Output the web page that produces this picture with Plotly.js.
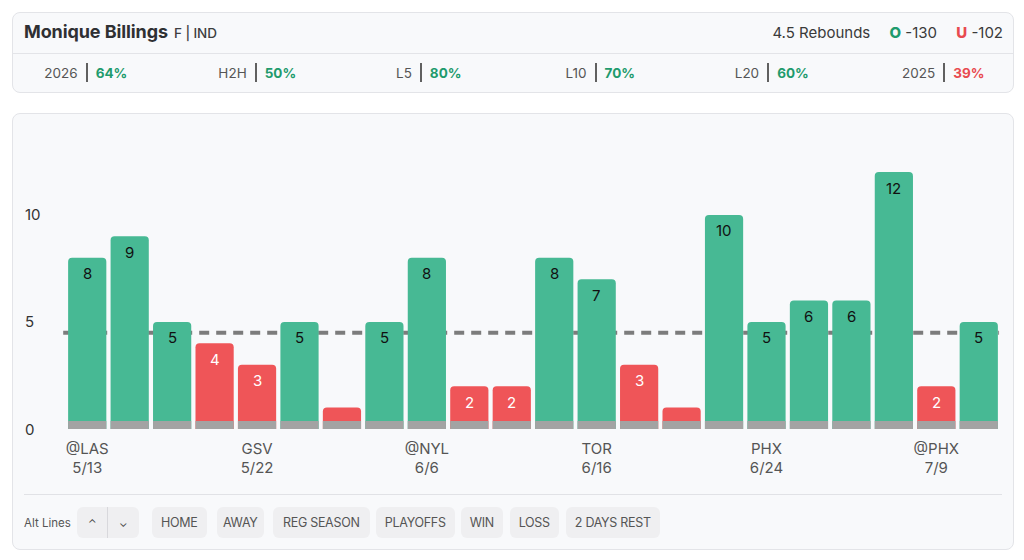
<!DOCTYPE html>
<html>
<head>
<meta charset="utf-8">
<script src="https://cdn.plot.ly/plotly-3.0.1.min.js"></script>
<style>
  html, body { margin: 0; padding: 0; background: #ffffff; }
  body { width: 1024px; height: 560px; position: relative; overflow: hidden;
         font-family: Inter, "Noto Sans", sans-serif; color: #2b2b2b; }
  .card { position: absolute; left: 12px; width: 1002px; background: #f8f9fb;
          border: 1px solid #e3e4e8; border-radius: 8px; box-sizing: border-box; }
  #head { top: 12px; height: 81px; }
  #head .top { height: 40px; border-bottom: 1px solid #e3e4e8; position: relative; }
  .name { position: absolute; left: 11px; top: 8px; font-size: 18px; font-weight: 700; color: #2f3033; letter-spacing: -0.1px; }
  .pos { font-size: 13.5px; font-weight: 500; color: #3d3e41; margin-left: 2px; }
  .line { position: absolute; right: 10px; top: 10px; font-size: 15px; color: #3a3a3a; }
  .line b { font-weight: 800; }
  .ov { color: #1f9b6d; margin-left: 15px; }
  .un { color: #e84a4f; margin-left: 15px; }
  .stats { position: absolute; left: -13px; top: 40px; width: 1029px; height: 39px;
           display: grid; grid-template-columns: repeat(6, 1fr); align-items: center; font-size: 13.5px; }
  .stat { display: flex; align-items: center; justify-content: center; }
  .stat .lbl { color: #555; }
  .stat .sep { width: 2px; height: 19px; background: #606060; margin: 0 8px; }
  .stat .val { font-weight: 700; }
  .g { color: #1f9b6d; } .r { color: #e84a4f; }
  #chartcard { top: 113px; height: 437px; }
  #plot { position: absolute; left: 0; top: 0; width: 1000px; height: 380px; }
  .divider { position: absolute; left: 11px; right: 11px; top: 380px; height: 1px; background: #e1e2e6; }
  .controls { position: absolute; left: 11px; top: 393px; height: 31px; display: flex; align-items: center; font-size: 12.5px; color: #555; }
  .alt { font-size: 11.5px; color: #555; margin-right: 6px; }
  .btn { height: 31px; background: #efeff1; border-radius: 6px; display: flex; align-items: center; justify-content: center;
         color: #555; letter-spacing: -0.3px; box-sizing: border-box; }
  .updown { width: 62px; margin-right: 13px; }
  .updown span { width: 30px; text-align: center; font-size: 11px; color: #444; }
  .updown .mid { width: 1px; height: 31px; background: #d8d8dc; }
</style>
</head>
<body>
<div class="card" id="head">
  <div class="top">
    <div class="name">Monique Billings <span class="pos">F | IND</span></div>
    <div class="line">4.5 Rebounds <span class="ov"><b>O</b></span> -130 <span class="un"><b>U</b></span> -102</div>
  </div>
  <div class="stats" id="stats"></div>
</div>

<div class="card" id="chartcard">
  <div id="plot"></div>
  <div class="divider"></div>
  <div class="controls" id="controls">
    <span class="alt">Alt Lines</span>
    <div class="btn updown"><span>&#8963;</span><div class="mid"></div><span>&#8964;</span></div>
  </div>
</div>

<script>
// Prop line and hit-rate summary
const propLine = 4.5;
const statLabels = ['2026', 'H2H', 'L5', 'L10', 'L20', '2025'];
const statRates = [64, 50, 80, 70, 60, 39];

// Filter buttons under the chart
const filters = ['HOME', 'AWAY', 'REG SEASON', 'PLAYOFFS', 'WIN', 'LOSS', '2 DAYS REST'];

// Game log: rebounds per game, oldest first
const rebounds = [8, 9, 5, 4, 3, 5, 1, 5, 8, 2, 2, 8, 7, 3, 1, 10, 5, 6, 6, 12, 2, 5];
const labelIdx = [0, 4, 8, 12, 16, 20];
const opponents = ['@LAS', 'GSV', '@NYL', 'TOR', 'PHX', '@PHX'];
const dates = ['5/13', '5/22', '6/6', '6/16', '6/24', '7/9'];
const yTicks = [0, 5, 10];

// Summary row
const statsEl = document.getElementById('stats');
statLabels.forEach((lab, i) => {
  const cls = statRates[i] >= 50 ? 'g' : 'r';
  statsEl.insertAdjacentHTML('beforeend',
    `<div class="stat"><span class="lbl">${lab}</span><span class="sep"></span><span class="val ${cls}">${statRates[i]}%</span></div>`);
});

// Button row
const btnWidths = [55, 47, 97, 79, 42, 49, 94];
const btnGaps = [10, 9, 6, 6, 7, 7, 0];
const ctl = document.getElementById('controls');
filters.forEach((f, i) => {
  ctl.insertAdjacentHTML('beforeend',
    `<div class="btn" style="width:${btnWidths[i]}px;margin-right:${btnGaps[i]}px">${f}</div>`);
});

const GREEN = '#47b994', RED = '#ef5558', STRIP = '#a3a3a3';
const STRIP_H = 0.37;
const xs = rebounds.map((_, i) => i);
const over = rebounds.map(v => v > propLine);

const bars = {
  type: 'bar', x: xs, y: rebounds,
  marker: { color: over.map(o => o ? GREEN : RED), cornerradius: 4, line: { width: 0 } },
  hoverinfo: 'skip'
};
const strip = {
  type: 'bar', x: xs, y: rebounds.map(() => STRIP_H),
  marker: { color: STRIP, line: { width: 0 } },
  hoverinfo: 'skip'
};

// Value labels near the top of each bar (skipped when the bar is too short)
const valueNotes = rebounds.map((v, i) => v >= 2 ? {
  x: i, y: v, xref: 'x', yref: 'y', text: String(v), showarrow: false,
  yanchor: 'middle', yshift: -16,
  font: { family: 'Inter, sans-serif', size: 15, color: over[i] ? '#111111' : '#ffffff' }
} : null).filter(Boolean);

const tickNotes = yTicks.map(t => ({
  x: 0, xref: 'paper', xshift: -43, xanchor: 'left', y: t, yref: 'y', text: String(t),
  showarrow: false, font: { family: 'Inter, sans-serif', size: 15, color: '#333333' }
}));

const layout = {
  width: 1000, height: 380,
  margin: { l: 53, r: 13, t: 26, b: 65 },
  paper_bgcolor: 'rgba(0,0,0,0)', plot_bgcolor: 'rgba(0,0,0,0)',
  barmode: 'overlay', bargap: 0.1, showlegend: false,
  xaxis: {
    range: [-0.5, rebounds.length - 0.5], showgrid: false, zeroline: false, showline: false,
    tickvals: labelIdx, ticktext: opponents.map((o, k) => o + '<br>' + dates[k]),
    ticks: '', ticklabelstandoff: 11,
    tickfont: { family: 'Inter, sans-serif', size: 12.5, color: '#555555' }
  },
  yaxis: {
    range: [0, 13.5], showgrid: false, zeroline: false, showline: false, showticklabels: false,
    fixedrange: true
  },
  shapes: [{
    type: 'line', xref: 'paper', x0: -0.003, x1: 0.999, yref: 'y', y0: propLine, y1: propLine,
    layer: 'below', line: { color: '#7c7c7c', width: 4, dash: '10px,7px' }
  }],
  annotations: valueNotes.concat(tickNotes),
  font: { family: 'Inter, sans-serif' }
};

Plotly.newPlot('plot', [bars, strip], layout, { displayModeBar: false, staticPlot: true });
</script>
</body>
</html>
